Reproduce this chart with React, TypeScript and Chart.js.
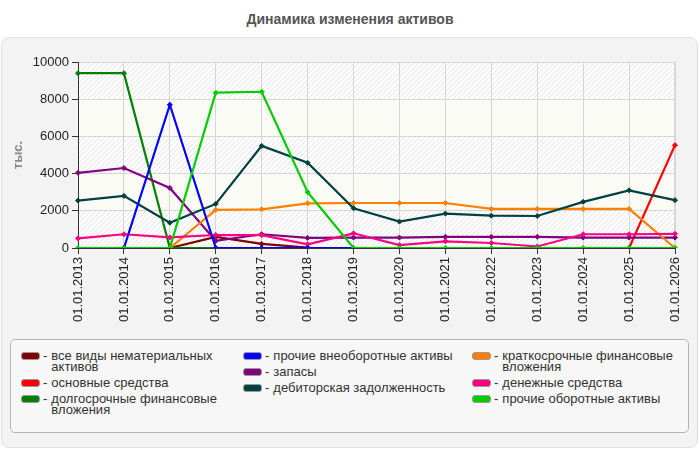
import React, { useEffect, useRef } from "react"
import { Chart, registerables } from "chart.js"

Chart.register(...registerables)

const labels = [
  "01.01.2013", "01.01.2014", "01.01.2015", "01.01.2016", "01.01.2017",
  "01.01.2018", "01.01.2019", "01.01.2020", "01.01.2021", "01.01.2022",
  "01.01.2023", "01.01.2024", "01.01.2025", "01.01.2026",
]

const intangibles = [null, null, 0, 600, 220, 20, null, null, null, null, null, null, null, null]
const fixedAssets = [null, null, null, null, null, null, null, null, null, null, null, null, 0, 5530]
const longTermInvest = [9400, 9400, 0, 0, null, null, null, null, null, null, null, null, null, null]
const otherNonCurrent = [null, 0, 7700, 0, 0, 0, 0, null, null, null, null, null, null, null]
const inventories = [4040, 4300, 3230, 380, 740, 540, 560, 560, 600, 600, 600, 560, 560, 560]
const receivables = [2550, 2800, 1360, 2370, 5490, 4580, 2140, 1420, 1850, 1740, 1720, 2480, 3100, 2570]
const shortTermInvest = [null, null, 0, 2050, 2080, 2400, 2420, 2420, 2420, 2100, 2100, 2100, 2100, 0]
const cash = [520, 740, 570, 700, 690, 200, 790, 160, 360, 270, 80, 740, 740, 760]
const otherCurrent = [0, 0, 0, 8350, 8400, 3000, 0, 0, 0, 0, 0, 0, 0, 0]

const yTicks = [0, 2000, 4000, 6000, 8000, 10000]

const series = [
  { name: "все виды нематериальных активов", data: intangibles, color: "#800000", order: 8 },
  { name: "основные средства", data: fixedAssets, color: "#ff0000", order: 6 },
  { name: "долгосрочные финансовые вложения", data: longTermInvest, color: "#008000", order: 7 },
  { name: "прочие внеоборотные активы", data: otherNonCurrent, color: "#0000ff", order: 1 },
  { name: "запасы", data: inventories, color: "#800080", order: 5 },
  { name: "дебиторская задолженность", data: receivables, color: "#004040", order: 3 },
  { name: "краткосрочные финансовые вложения", data: shortTermInvest, color: "#ff8000", order: 4 },
  { name: "денежные средства", data: cash, color: "#ff0080", order: 2 },
  { name: "прочие оборотные активы", data: otherCurrent, color: "#00cc00", order: 0 },
]

// striped / plain bands behind the plot
const bandsPlugin = {
  id: "bands",
  beforeDraw(chart: any) {
    const { ctx, chartArea, scales } = chart
    const y = scales.y
    const p = document.createElement("canvas")
    p.width = 5
    p.height = 5
    const pc = p.getContext("2d")!
    pc.fillStyle = "#ffffff"
    pc.fillRect(0, 0, 5, 5)
    pc.strokeStyle = "#e4e4e4"
    pc.lineWidth = 1
    pc.beginPath()
    pc.moveTo(0, 5)
    pc.lineTo(5, 0)
    pc.stroke()
    const pattern = ctx.createPattern(p, "repeat")
    ctx.save()
    for (let i = 0; i < yTicks.length - 1; i++) {
      const top = y.getPixelForValue(yTicks[i + 1])
      const bottom = y.getPixelForValue(yTicks[i])
      ctx.fillStyle = i % 2 === 0 ? pattern : "#fbfbf5"
      ctx.fillRect(chartArea.left, top, chartArea.right - chartArea.left, bottom - top)
    }
    ctx.strokeStyle = "#d8d8d8"
    ctx.lineWidth = 1
    ctx.strokeRect(chartArea.left + 0.5, chartArea.top + 0.5, chartArea.right - chartArea.left - 1, chartArea.bottom - chartArea.top)
    ctx.restore()
  },
}

export default function App() {
  const canvasRef = useRef<HTMLCanvasElement>(null)
  const chartRef = useRef<Chart | null>(null)

  useEffect(() => {
    document.body.style.margin = "0"
    if (!canvasRef.current) return
    if (chartRef.current) chartRef.current.destroy()
    const ctx = canvasRef.current.getContext("2d")
    if (!ctx) return
    Chart.defaults.font.family = '"Liberation Sans", Arial, sans-serif'
    chartRef.current = new Chart(ctx, {
      type: "line",
      data: {
        labels,
        datasets: series.map((s) => ({
          label: s.name,
          data: s.data,
          borderColor: s.color,
          backgroundColor: s.color,
          borderWidth: 2.2,
          pointStyle: "rectRot",
          pointRadius: 2.5,
          pointBorderWidth: 1,
          fill: false,
          tension: 0,
          spanGaps: false,
          order: s.order,
        })),
      },
      options: {
        animation: false,
        responsive: true,
        maintainAspectRatio: false,
        layout: { padding: { top: 25, right: 25, left: 0, bottom: 0 } },
        plugins: {
          legend: { display: false },
          tooltip: { enabled: false },
        },
        scales: {
          x: {
            offset: false,
            afterFit: (scale: any) => {
              scale.height = 89
            },
            grid: {
              color: "#d6d6d6",
              borderDash: [4, 4],
              tickBorderDash: [],
              tickColor: "#333",
              tickLength: 6,
            } as any,
            border: { color: "#333" },
            ticks: {
              autoSkip: false,
              maxRotation: 90,
              minRotation: 90,
              padding: 3,
              color: "#222",
              font: { size: 13 },
            },
          },
          y: {
            min: 0,
            max: 10000,
            afterFit: (scale: any) => {
              scale.width = 78
            },
            grid: {
              color: "#d6d6d6",
              borderDash: [4, 4],
              tickBorderDash: [],
              tickColor: "#333",
              tickLength: 6,
            } as any,
            border: { color: "#333" },
            ticks: {
              stepSize: 2000,
              padding: 3,
              color: "#222",
              font: { size: 13 },
              callback: (value) => String(value),
            },
            title: {
              display: true,
              text: "тыс.",
              color: "#888",
              font: { size: 13, weight: "bold" },
              padding: { top: 11, bottom: 0 },
            },
          },
        },
      },
      plugins: [bandsPlugin],
    })
    return () => {
      if (chartRef.current) chartRef.current.destroy()
      chartRef.current = null
    }
  }, [])

  const columns = [series.slice(0, 3), series.slice(3, 6), series.slice(6, 9)]
  const colLeft = [21, 243, 472]

  return (
    <div style={{ position: "relative", width: 700, height: 450, fontFamily: '"Liberation Sans", Arial, sans-serif', background: "#fff" }}>
      <div style={{ position: "absolute", left: 0, top: 11, width: 700, textAlign: "center", fontSize: 14, fontWeight: "bold", color: "#555" }}>
        Динамика изменения активов
      </div>
      <div style={{ position: "absolute", left: 1, top: 37, width: 695, height: 409, background: "#f3f3f3", border: "1px solid #e0e0e0", borderRadius: 8 }} />
      <div style={{ position: "absolute", left: 0, top: 37, width: 700, height: 300 }}>
        <canvas ref={canvasRef}></canvas>
      </div>
      <div style={{ position: "absolute", left: 10, top: 339, width: 677, height: 92, background: "#f7f7f7", border: "1px solid #b4b4b4", borderRadius: 5 }} />
      {columns.map((col, ci) => (
        <div key={ci} style={{ position: "absolute", left: colLeft[ci], top: 350, display: "flex", flexDirection: "column" }}>
          {col.map((s) => (
            <div key={s.name} style={{ display: "flex", alignItems: "flex-start", marginBottom: 5, fontSize: 13, lineHeight: "11px", color: "#333" }}>
              <span style={{ width: 17, height: 6, background: s.color, border: "1px solid #999", borderRadius: 3, marginTop: 2 }} />
              <span style={{ margin: "0 4px 0 3px" }}>-</span>
              <span style={{ maxWidth: 190 }}>{s.name}</span>
            </div>
          ))}
        </div>
      ))}
    </div>
  )
}
